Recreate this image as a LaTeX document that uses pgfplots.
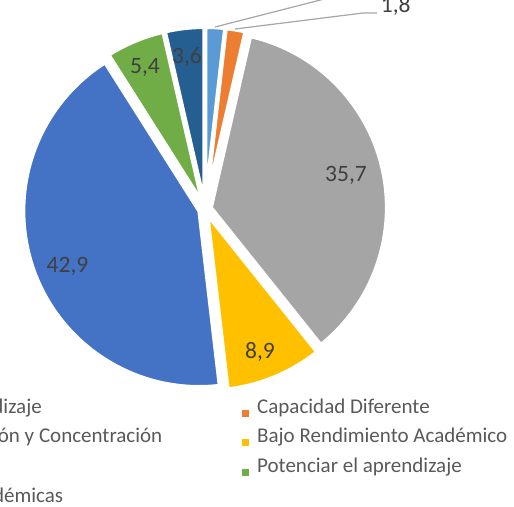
\documentclass[border=0pt]{standalone}
\usepackage{pgfplots}
\pgfplotsset{compat=1.18}
\usepackage{pgfplotstable}
\usepackage{fontspec}
\setmainfont{Carlito}
\definecolor{c1}{HTML}{5B9BD5}
\definecolor{c2}{HTML}{ED7D31}
\definecolor{c3}{HTML}{A5A5A5}
\definecolor{c4}{HTML}{FFC000}
\definecolor{c5}{HTML}{4472C4}
\definecolor{c6}{HTML}{70AD47}
\definecolor{c7}{HTML}{255E91}
\definecolor{lbl}{HTML}{404040}
\definecolor{leg}{HTML}{595959}
\definecolor{lead}{HTML}{A6A6A6}
% value, colour, label baseline position (screen px)
\pgfplotstableread{
value color lx ly
1.8 c1 330 -20
1.8 c2 395.8 12.7
35.7 c3 346 182
8.9 c4 260 359
42.9 c5 67.5 272.7
5.4 c6 145 74
3.6 c7 187 63.3
}\piedata
\begin{document}
\begin{tikzpicture}
\begin{axis}[
  at={(0,0)}, anchor=south west,
  x=1pt, y=1pt, scale only axis,
  xmin=0, xmax=514, ymin=0, ymax=506,
  hide axis, clip=false,
]
\def\total{100.1}
\def\cum{0}
\pgfplotsforeachungrouped \i in {0,...,6}{%
  \pgfplotstablegetelem{\i}{value}\of\piedata \let\v\pgfplotsretval
  \pgfplotstablegetelem{\i}{color}\of\piedata \let\c\pgfplotsretval
  \pgfplotstablegetelem{\i}{lx}\of\piedata \let\lx\pgfplotsretval
  \pgfplotstablegetelem{\i}{ly}\of\piedata \let\ly\pgfplotsretval
  \pgfmathsetmacro\s{90-\cum/\total*360}%
  \pgfmathsetmacro\e{90-(\cum+\v)/\total*360}%
  \pgfmathsetmacro\m{(\s+\e)/2}%
  \pgfmathsetmacro\ax{205+6*cos(\m)}%
  \pgfmathsetmacro\ay{297+6*sin(\m)}%
  \pgfmathsetmacro\lyy{506-\ly}%
  \edef\temp{\noexpand\fill[\c, draw=white, line width=4pt, line join=miter] (axis cs:\ax,\ay) -- ++(\s:176pt) arc[start angle=\s, end angle=\e, radius=176pt] -- cycle;}%
  \temp
  \edef\temp{\noexpand\node[anchor=base, text=lbl, font=\noexpand\fontsize{23.5}{23.5}\noexpand\selectfont] at (axis cs:\lx,\lyy) {\noexpand\pgfmathprintnumber[use comma,fixed,fixed zerofill,precision=1,assume math mode=true]{\v}};}%
  \temp
  \pgfmathsetmacro\cum{\cum+\v}%
}
% leader lines
\draw[lead, line width=1.2pt] (axis cs:215,479) -- (axis cs:340,511);
\draw[lead, line width=1.2pt] (axis cs:235,477) -- (axis cs:363,493) -- (axis cs:377,493);
% legend
\fill[c1] (axis cs:-240,89) rectangle (axis cs:-233,96);
\node[anchor=base east, text=leg, font=\fontsize{21}{21}\selectfont, inner sep=0pt] at (axis cs:42,92.5) {Dificultades de Aprendizaje};
\fill[c3] (axis cs:-240,59.5) rectangle (axis cs:-233,66.5);
\node[anchor=base east, text=leg, font=\fontsize{21}{21}\selectfont, inner sep=0pt] at (axis cs:162.5,63) {Falta de Atención y Concentración};
\fill[c5] (axis cs:-240,30) rectangle (axis cs:-233,37);
\node[anchor=base west, text=leg, font=\fontsize{21}{21}\selectfont, inner sep=0pt] at (axis cs:-225,33.5) {Otros};
\fill[c7] (axis cs:-240,0.5) rectangle (axis cs:-233,7.5);
\node[anchor=base east, text=leg, font=\fontsize{21}{21}\selectfont, inner sep=0pt] at (axis cs:63.3,4) {Dificultades Académicas};
\fill[c2] (axis cs:242,89) rectangle (axis cs:249,96);
\node[anchor=base west, text=leg, font=\fontsize{21}{21}\selectfont, inner sep=0pt] at (axis cs:257,92.5) {Capacidad Diferente};
\fill[c4] (axis cs:242,59.5) rectangle (axis cs:249,66.5);
\node[anchor=base west, text=leg, font=\fontsize{21}{21}\selectfont, inner sep=0pt] at (axis cs:257,63) {Bajo Rendimiento Académico};
\fill[c6] (axis cs:242,30) rectangle (axis cs:249,37);
\node[anchor=base west, text=leg, font=\fontsize{21}{21}\selectfont, inner sep=0pt] at (axis cs:257,33.5) {Potenciar el aprendizaje};
\end{axis}
\pgfresetboundingbox
\useasboundingbox (0,0) rectangle (514pt,506pt);
\end{tikzpicture}
\end{document}
